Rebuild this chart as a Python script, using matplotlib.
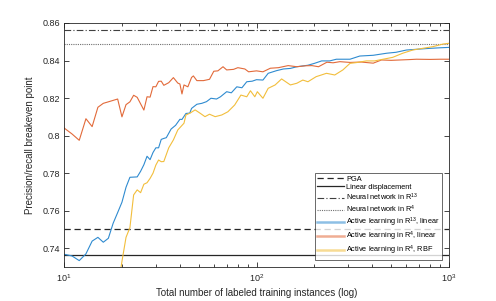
import matplotlib
matplotlib.use("Agg")
import matplotlib.pyplot as plt
from matplotlib.ticker import FixedLocator, NullFormatter, LogLocator

plt.rcParams['font.family'] = ['Liberation Sans', 'DejaVu Sans']
plt.rcParams['mathtext.fontset'] = 'custom'
plt.rcParams['mathtext.rm'] = 'Liberation Sans'

# Reference levels
pga = 0.750
linear_disp = 0.7365
nn_r13 = 0.8565
nn_r4 = 0.8488

# Active learning in R^4, linear (orange)
n_orange = [10, 11, 12, 13, 14, 15, 16, 17, 19, 20, 21, 22, 23, 24, 26, 27, 28, 29, 30, 31,
            32, 33, 35, 37, 39, 40, 41, 42, 44, 46, 47, 49, 53, 57, 60, 63, 67, 70, 76, 80,
            87, 91, 100, 108, 118, 130, 146, 162, 180, 194, 210, 232, 250, 271, 306, 350,
            404, 446, 500, 556, 620, 678, 800, 900, 1000]
v_orange = [0.8041, 0.8009, 0.7975, 0.8090, 0.8048, 0.8151, 0.8172, 0.8180, 0.8195, 0.8100,
            0.8165, 0.8180, 0.8215, 0.8204, 0.8136, 0.8207, 0.8205, 0.8261, 0.8260, 0.8289,
            0.8290, 0.8268, 0.8282, 0.8309, 0.8280, 0.8275, 0.8222, 0.8270, 0.8260, 0.8310,
            0.8318, 0.8293, 0.8293, 0.8300, 0.8343, 0.8345, 0.8367, 0.8350, 0.8353, 0.8362,
            0.8355, 0.8340, 0.8345, 0.8340, 0.8359, 0.8362, 0.8373, 0.8367, 0.8372, 0.8373,
            0.8367, 0.8391, 0.8388, 0.8394, 0.8390, 0.8392, 0.8386, 0.8403, 0.8401, 0.8403,
            0.8405, 0.8407, 0.8406, 0.8407, 0.8407]

# Active learning in R^13, linear (blue)
n_blue = [10, 11, 12, 13, 14, 15, 16, 17, 18, 19, 20, 21, 22, 23, 24, 25, 26, 27, 28, 29,
          30, 31, 32, 33, 34, 36, 38, 40, 41, 43, 45, 46, 49, 52, 55, 58, 62, 65, 70, 74,
          79, 84, 89, 95, 100, 108, 115, 127, 138, 150, 162, 185, 200, 218, 240, 260, 306,
          344, 404, 475, 531, 601, 678, 798, 900, 1000]
v_blue = [0.7368, 0.7359, 0.7334, 0.7370, 0.7438, 0.7458, 0.7432, 0.7453, 0.7533, 0.7590,
          0.7645, 0.7725, 0.7778, 0.7779, 0.7780, 0.7810, 0.7845, 0.7890, 0.7872, 0.7910,
          0.7935, 0.7935, 0.7980, 0.7985, 0.7989, 0.8035, 0.8055, 0.8087, 0.8086, 0.8118,
          0.8120, 0.8145, 0.8167, 0.8172, 0.8181, 0.8199, 0.8195, 0.8207, 0.8234, 0.8228,
          0.8260, 0.8255, 0.8287, 0.8290, 0.8298, 0.8296, 0.8332, 0.8346, 0.8355, 0.8358,
          0.8367, 0.8375, 0.8385, 0.8398, 0.8398, 0.8407, 0.8407, 0.8424, 0.8428, 0.8439,
          0.8444, 0.8456, 0.8460, 0.8465, 0.8468, 0.8470]

# Active learning in R^4, RBF (yellow)
n_yellow = [19, 20, 21, 22, 23, 24, 25, 26, 27, 28, 29, 30, 31, 32, 33, 35, 37, 39, 42, 43,
            45, 48, 51, 54, 57, 61, 66, 71, 77, 83, 89, 93, 98, 101, 108, 115, 125, 135, 150,
            162, 174, 185, 204, 231, 255, 281, 306, 330, 372, 410, 455, 510, 575, 648, 730,
            825, 932, 1000]
v_yellow = [0.7180, 0.7330, 0.7458, 0.7510, 0.7684, 0.7711, 0.7696, 0.7741, 0.7749, 0.7772,
            0.7800, 0.7843, 0.7870, 0.7861, 0.7862, 0.7935, 0.7977, 0.8030, 0.8066, 0.8110,
            0.8119, 0.8137, 0.8119, 0.8101, 0.8114, 0.8101, 0.8110, 0.8127, 0.8163, 0.8216,
            0.8207, 0.8239, 0.8207, 0.8234, 0.8199, 0.8252, 0.8270, 0.8302, 0.8270, 0.8279,
            0.8296, 0.8287, 0.8314, 0.8332, 0.8323, 0.8350, 0.8385, 0.8389, 0.8398, 0.8398,
            0.8407, 0.8417, 0.8439, 0.8456, 0.8465, 0.8474, 0.8488, 0.8492]

y_ticks = [0.74, 0.76, 0.78, 0.8, 0.82, 0.84, 0.86]
y_tick_labels = ['0.74', '0.76', '0.78', '0.8', '0.82', '0.84', '0.86']

fig = plt.figure(figsize=(4.96, 3.01), dpi=100)
ax = fig.add_axes([64/496, 34/301, 385/496, 244/301])

ax.axhline(pga, color='#262626', ls=(0, (5, 3)), lw=0.9, label='PGA')
ax.axhline(linear_disp, color='#262626', ls='-', lw=0.9, label='Linear displacement')
ax.axhline(nn_r13, color='#404040', ls=(0, (6, 2, 1, 2)), lw=0.8, label='Neural network in R$^{13}$')
ax.axhline(nn_r4, color='#707070', ls=(0, (1, 1)), lw=0.8, label='Neural network in R$^{4}$')

ax.plot(n_blue, v_blue, color='#2F8BD0', lw=0.8, label='Active learning in R$^{13}$, linear')
ax.plot(n_orange, v_orange, color='#E26A3A', lw=0.8, label='Active learning in R$^{4}$, linear')
ax.plot(n_yellow, v_yellow, color='#F2BE3C', lw=0.8, label='Active learning in R$^{4}$, RBF')

ax.set_xscale('log')
ax.set_xlim(10, 1000)
ax.set_ylim(0.73, 0.86)
ax.yaxis.set_major_locator(FixedLocator(y_ticks))
ax.set_yticklabels(y_tick_labels)
ax.xaxis.set_minor_locator(LogLocator(base=10, subs=range(2, 10)))
ax.xaxis.set_minor_formatter(NullFormatter())

ax.tick_params(which='both', direction='in', top=True, right=True, colors='#262626',
               labelsize=6.5, width=0.6)
ax.tick_params(which='major', length=3.5)
ax.tick_params(which='minor', length=2)
ax.tick_params(axis='x', pad=4)
ax.tick_params(axis='y', pad=3)
for s in ax.spines.values():
    s.set_color('#262626')
    s.set_linewidth(0.6)

ax.set_xlabel('Total number of labeled training instances (log)', fontsize=7, color='#262626', labelpad=3)
ax.set_ylabel('Precision/recall breakeven point', fontsize=7, color='#262626', labelpad=5)

leg = ax.legend(loc='lower right', fontsize=5.3, frameon=True, fancybox=False,
                edgecolor='#262626', handlelength=3.7, handletextpad=0.3,
                borderpad=0.3, labelspacing=0.12, borderaxespad=0.0,
                bbox_to_anchor=(0.982, 0.03))
leg.get_frame().set_linewidth(0.6)
for h in leg.get_lines()[4:]:
    h.set_linewidth(1.8)
    h.set_alpha(0.55)

fig.savefig('out.png', dpi=100)
